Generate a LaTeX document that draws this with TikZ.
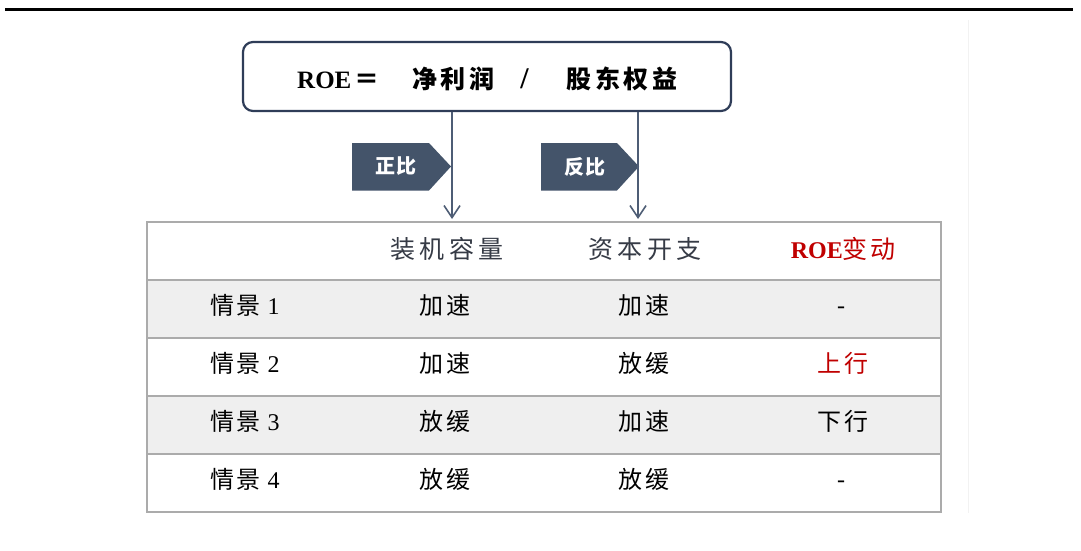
\documentclass[tikz,border=0pt]{standalone}
\usepackage{fontspec}
\setmainfont{Liberation Serif}
\newfontfamily\cjk{Noto Sans CJK SC}
\newfontfamily\cjkhd[LetterSpace=17]{Noto Sans CJK SC}
\newfontfamily\cjkbd[LetterSpace=10]{Noto Sans CJK SC}
\newfontfamily\cjkfm[LetterSpace=14]{Noto Sans CJK SC}
\newfontfamily\cjktg[LetterSpace=5]{Noto Sans CJK SC}
\usetikzlibrary{arrows.meta}
\definecolor{navy}{HTML}{2F3D58}
\definecolor{slate}{HTML}{44546A}
\definecolor{arrowc}{HTML}{4E5D75}
\definecolor{gridc}{HTML}{ABABAB}
\definecolor{rowgray}{HTML}{EFEFEF}
\definecolor{hdr}{HTML}{363B46}
\definecolor{roered}{HTML}{C00000}
\tikzset{
  roebox/.style={draw=navy, line width=2.2pt, rounded corners=10pt, minimum width=488pt, minimum height=69pt, inner sep=0pt, fill=white},
  tagtext/.style={text=white, font=\cjktg\bfseries\fontsize{20}{22}\selectfont, inner sep=0pt},
  tagshape/.style={fill=slate},
  arr/.style={draw=arrowc, line width=1.6pt, -{Straight Barb[length=12pt,width=16pt,line width=1.6pt]}},
  hdrcell/.style={text=hdr, font=\cjkhd\fontsize{25}{27}\selectfont, inner sep=0pt},
  cell/.style={text=black, font=\cjkbd\fontsize{24}{26}\selectfont, inner sep=0pt},
  dashcell/.style={text=black, font=\fontsize{24}{26}\selectfont, inner sep=0pt, anchor=base},
  grid/.style={draw=gridc, line width=2pt},
}
\begin{document}
\begin{tikzpicture}[x=1pt,y=-1pt]
\useasboundingbox (0,0) rectangle (1081,550);
\fill[white] (0,0) rectangle (1081,550);
% top rule
\draw[line width=3pt, black] (5,9.5) -- (1073,9.5);
% faint vertical line
\draw[line width=1pt, black!5] (968,20) -- (968,513);
% ROE box
\node[roebox] (box) at (487,76.5) {};
\node[font=\fontsize{25}{27}\selectfont\bfseries, inner sep=0pt, anchor=base west] (formula) at (297,88)
  {ROE\hspace{3pt}{\cjkfm ＝}\hspace{33pt}{\cjkfm 净利润}\hspace{26pt}{\fontsize{30}{30}\selectfont /}\hspace{38pt}{\cjkfm 股东权益}};
% tags
\fill[tagshape] (352,143) -- (429,143) -- (451,166.5) -- (429,190.5) -- (352,190.5) -- cycle;
\node[tagtext] (zb) at (396,166.5) {正比};
\fill[tagshape] (541,143) -- (617,143) -- (639,166.5) -- (617,190.5) -- (541,190.5) -- cycle;
\node[tagtext] (fb) at (585,166.5) {反比};
% table rows
\fill[rowgray] (147,280) rectangle (941,338);
\fill[rowgray] (147,396) rectangle (941,454);
\foreach \yy in {280,338,396,454} {\draw[grid] (147,\yy) -- (941,\yy);}
\draw[grid] (147,222) rectangle (941,512);
% arrows
\coordinate (t1) at (452,219);
\coordinate (t2) at (638,219);
\draw[arr] (t1 |- box.south) -- (t1);
\draw[arr] (t2 |- box.south) -- (t2);
% header
\node[hdrcell] (h2) at (447,249) {装机容量};
\node[hdrcell] (h3) at (645,249) {资本开支};
\node[inner sep=0pt, text=roered, font=\bfseries\fontsize{24}{26}\selectfont] (h4) at (843,249) {ROE{\cjkbd\mdseries\fontsize{25}{27}\selectfont 变动}};
% body
\node[cell] (r1c1) at (245,305) {情景\hspace{7pt}{\rmfamily 1}};
\node[cell] (r1c2) at (445,305) {加速};
\node[cell] (r1c3) at (644,305) {加速};
\node[dashcell] (r1c4) at (841,313) {-};
\node[cell] (r2c1) at (245,363) {情景\hspace{7pt}{\rmfamily 2}};
\node[cell] (r2c2) at (445,363) {加速};
\node[cell] (r2c3) at (644,363) {放缓};
\node[cell, text=roered] (r2c4) at (843,363) {上行};
\node[cell] (r3c1) at (245,421) {情景\hspace{7pt}{\rmfamily 3}};
\node[cell] (r3c2) at (445,421) {放缓};
\node[cell] (r3c3) at (644,421) {加速};
\node[cell] (r3c4) at (843,421) {下行};
\node[cell] (r4c1) at (245,479) {情景\hspace{7pt}{\rmfamily 4}};
\node[cell] (r4c2) at (445,479) {放缓};
\node[cell] (r4c3) at (644,479) {放缓};
\node[dashcell] (r4c4) at (841,487) {-};
\end{tikzpicture}
\end{document}
